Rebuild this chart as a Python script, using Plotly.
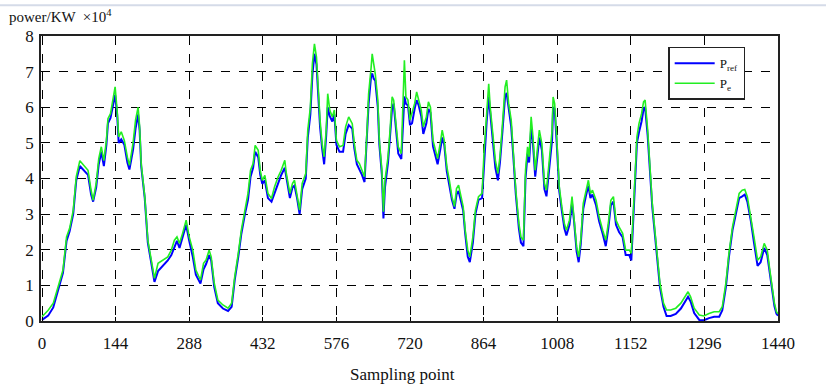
import plotly.graph_objects as go

sample_x = [0, 12, 22, 31, 41, 48, 54, 61, 67, 74, 83, 90, 96, 100, 106, 111, 116, 121, 126, 129,
            134, 139, 143, 147, 150, 155, 161, 167, 171, 178, 183, 188, 191, 194, 201, 207, 214, 220, 227, 236,
            246, 253, 259, 264, 269, 275, 282, 288, 295, 301, 310, 316, 321, 327, 331, 337, 344, 354, 364, 371,
            377, 384, 390, 397, 403, 408, 413, 417, 423, 427, 431, 436, 442, 449, 455, 462, 468, 475, 478, 485,
            490, 494, 499, 504, 509, 516, 520, 525, 529, 533, 537, 541, 544, 548, 552, 556, 559, 563, 568, 572,
            576, 582, 589, 594, 600, 607, 611, 616, 621, 626, 631, 636, 639, 644, 646, 649, 652, 657, 660, 665,
            668, 671, 677, 681, 685, 688, 693, 697, 703, 707, 709, 712, 716, 720, 724, 729, 733, 737, 742, 746,
            752, 756, 760, 765, 770, 774, 779, 783, 787, 792, 797, 802, 807, 811, 815, 820, 824, 828, 833, 837,
            843, 848, 854, 861, 865, 870, 874, 877, 882, 887, 892, 896, 901, 906, 909, 913, 918, 922, 927, 933,
            937, 942, 946, 950, 953, 957, 960, 965, 970, 973, 978, 983, 987, 992, 998, 1000, 1003, 1007, 1012, 1017,
            1022, 1026, 1032, 1037, 1041, 1046, 1050, 1054, 1059, 1064, 1069, 1073, 1077, 1084, 1090, 1097, 1103, 1108, 1113, 1118,
            1123, 1129, 1136, 1142, 1149, 1153, 1159, 1164, 1168, 1173, 1177, 1180, 1185, 1190, 1194, 1199, 1204, 1209, 1216, 1222,
            1230, 1240, 1250, 1256, 1264, 1269, 1276, 1286, 1295, 1305, 1315, 1325, 1331, 1338, 1344, 1351, 1357, 1364, 1370, 1375,
            1380, 1387, 1393, 1400, 1406, 1413, 1419, 1424, 1429, 1433, 1437, 1440]

p_e = [0.12, 0.30, 0.50, 0.96, 1.43, 2.36, 2.60, 3.10, 4.05, 4.50, 4.33, 4.23, 3.67, 3.39, 3.86, 4.56, 4.89, 4.50, 5.07, 5.68,
       5.82, 6.29, 6.57, 5.90, 5.17, 5.31, 5.07, 4.60, 4.37, 4.98, 5.64, 6.00, 5.45, 4.42, 3.49, 2.27, 1.62, 1.20, 1.62, 1.71,
       1.80, 1.99, 2.27, 2.36, 2.18, 2.46, 2.83, 2.36, 1.99, 1.43, 1.15, 1.62, 1.71, 1.99, 1.80, 1.06, 0.59, 0.45, 0.36, 0.50,
       1.24, 1.90, 2.55, 3.11, 3.58, 4.23, 4.42, 4.93, 4.79, 4.23, 3.95, 4.09, 3.58, 3.44, 3.77, 4.05, 4.23, 4.51, 4.14, 3.58,
       3.86, 3.95, 3.58, 3.11, 3.86, 4.14, 5.36, 6.00, 7.22, 7.78, 7.41, 6.38, 5.64, 4.98, 4.61, 5.36, 6.38, 5.92, 5.73, 5.92,
       5.07, 4.89, 4.93, 5.45, 5.73, 5.54, 4.98, 4.51, 4.42, 4.23, 4.05, 5.36, 6.38, 7.13, 7.50, 7.22, 6.94, 6.20, 5.07, 4.23,
       3.07, 3.95, 4.61, 5.36, 6.29, 6.20, 5.36, 4.89, 4.70, 6.29, 7.32, 6.29, 6.20, 5.64, 5.82, 6.10, 6.43, 6.20, 5.92, 5.45,
       5.73, 6.15, 6.00, 5.07, 4.79, 4.56, 4.98, 5.36, 5.07, 4.33, 3.95, 3.49, 3.21, 3.72, 3.81, 3.49, 3.21, 2.55, 1.99, 1.80,
       2.36, 3.11, 3.49, 3.58, 4.79, 5.82, 6.66, 6.00, 5.26, 4.51, 4.14, 4.61, 5.54, 6.57, 6.76, 6.10, 5.64, 4.79, 3.67, 2.74,
       2.36, 2.27, 4.23, 4.89, 4.61, 5.73, 5.26, 4.23, 4.89, 5.36, 4.98, 3.86, 3.67, 4.42, 5.36, 6.29, 6.10, 5.17, 3.77, 3.21,
       2.74, 2.55, 2.83, 3.49, 2.93, 2.08, 1.80, 2.27, 3.30, 3.67, 3.95, 3.58, 3.67, 3.39, 2.93, 2.55, 2.27, 2.74, 3.39, 3.49,
       2.83, 2.64, 2.46, 1.99, 1.99, 1.90, 3.86, 5.17, 5.54, 5.82, 6.15, 6.20, 5.36, 4.05, 3.30, 2.55, 1.71, 1.06, 0.50, 0.31,
       0.31, 0.36, 0.50, 0.64, 0.82, 0.68, 0.36, 0.17, 0.14, 0.21, 0.26, 0.26, 0.40, 1.06, 1.90, 2.64, 3.11, 3.58, 3.67, 3.69,
       3.49, 2.93, 2.36, 1.71, 1.80, 2.18, 1.99, 1.43, 0.87, 0.50, 0.26, 0.20]

p_ref = [0.03, 0.15, 0.38, 0.85, 1.35, 2.25, 2.52, 3.00, 3.95, 4.35, 4.20, 4.10, 3.55, 3.35, 3.75, 4.40, 4.75, 4.35, 4.95, 5.55,
         5.70, 6.10, 6.35, 5.80, 5.00, 5.10, 4.95, 4.45, 4.25, 4.80, 5.40, 5.80, 5.35, 4.35, 3.45, 2.20, 1.55, 1.10, 1.40, 1.55,
         1.70, 1.85, 2.10, 2.25, 2.05, 2.35, 2.70, 2.25, 1.80, 1.30, 1.05, 1.45, 1.60, 1.85, 1.70, 0.95, 0.50, 0.35, 0.28, 0.40,
         1.15, 1.80, 2.45, 3.00, 3.40, 4.05, 4.30, 4.75, 4.60, 4.10, 3.85, 3.95, 3.45, 3.35, 3.60, 3.90, 4.10, 4.30, 4.05, 3.45,
         3.75, 3.80, 3.45, 3.00, 3.70, 4.00, 5.15, 5.80, 6.90, 7.50, 7.20, 6.10, 5.45, 4.85, 4.40, 5.20, 6.00, 5.75, 5.60, 5.80,
         4.95, 4.75, 4.75, 5.25, 5.50, 5.40, 4.85, 4.40, 4.25, 4.10, 3.90, 5.10, 6.10, 6.90, 6.95, 6.80, 6.75, 6.00, 4.95, 4.10,
         2.88, 3.75, 4.45, 5.20, 6.00, 6.10, 5.20, 4.70, 4.55, 6.00, 6.30, 6.10, 6.05, 5.50, 5.55, 5.95, 6.20, 6.05, 5.75, 5.25,
         5.55, 5.95, 5.85, 4.90, 4.65, 4.40, 4.80, 5.15, 4.95, 4.20, 3.80, 3.40, 3.15, 3.55, 3.65, 3.35, 3.10, 2.45, 1.80, 1.65,
         2.20, 3.00, 3.40, 3.45, 4.55, 5.60, 6.30, 5.80, 5.10, 4.30, 3.95, 4.45, 5.35, 6.30, 6.40, 5.90, 5.45, 4.65, 3.55, 2.60,
         2.20, 2.10, 4.00, 4.70, 4.45, 5.40, 5.10, 4.05, 4.70, 5.15, 4.80, 3.70, 3.50, 4.25, 5.10, 6.00, 5.95, 5.00, 3.65, 3.10,
         2.60, 2.40, 2.70, 3.30, 2.80, 1.95, 1.65, 2.15, 3.15, 3.50, 3.80, 3.45, 3.55, 3.25, 2.80, 2.45, 2.10, 2.60, 3.25, 3.35,
         2.70, 2.50, 2.35, 1.85, 1.85, 1.70, 3.70, 5.00, 5.30, 5.60, 5.95, 6.00, 5.20, 3.95, 3.20, 2.45, 1.60, 0.95, 0.40, 0.14,
         0.14, 0.20, 0.35, 0.50, 0.68, 0.55, 0.22, 0.03, 0.02, 0.08, 0.12, 0.12, 0.30, 0.95, 1.80, 2.55, 3.00, 3.45, 3.50, 3.55,
         3.35, 2.80, 2.20, 1.55, 1.65, 2.05, 1.85, 1.35, 0.80, 0.42, 0.20, 0.15]

x_ticks = [0, 144, 288, 432, 576, 720, 864, 1008, 1152, 1296, 1440]
y_ticks = [0, 1, 2, 3, 4, 5, 6, 7, 8]

serif = "Liberation Serif, Times New Roman, serif"

fig = go.Figure()
fig.add_trace(go.Scatter(x=sample_x, y=p_ref, mode="lines", name="P<sub>ref</sub>",
                         line=dict(color="#0000ff", width=2.0)))
fig.add_trace(go.Scatter(x=sample_x, y=p_e, mode="lines", name="P<sub>e</sub>",
                         line=dict(color="#22ee22", width=1.6)))

axis_common = dict(showgrid=True, gridcolor="black", griddash="dash", gridwidth=1.3,
                   showline=True, linecolor="#222", linewidth=1.5, mirror=True,
                   ticks="inside", ticklen=4, tickcolor="black", zeroline=False,
                   tickfont=dict(family=serif, size=17, color="#111"))

fig.update_layout(
    width=826, height=389,
    margin=dict(l=41, r=48, t=36, b=68),
    paper_bgcolor="white", plot_bgcolor="white",
    xaxis=dict(range=[-2, 1440], tickvals=x_ticks, ticktext=[str(v) for v in x_ticks],
               ticklabelstandoff=6, **axis_common),
    yaxis=dict(range=[0, 8], tickvals=y_ticks, ticklabelstandoff=2, **axis_common),
    showlegend=True,
    legend=dict(x=0.851, y=0.962, xanchor="left", yanchor="top",
                bordercolor="#222", borderwidth=1.5, bgcolor="white",
                font=dict(family=serif, size=13, color="#111"),
                tracegroupgap=0, itemwidth=40),
    annotations=[
        dict(text="power/KW  ×10<sup>4</sup>", xref="paper", yref="paper", x=-0.046, y=1.0,
             xanchor="left", yanchor="bottom", showarrow=False, yshift=9,
             font=dict(family=serif, size=15, color="#111")),
        dict(text="Sampling point", xref="paper", yref="paper", x=0.49, y=0,
             xanchor="center", yanchor="top", showarrow=False, yshift=-42,
             font=dict(family=serif, size=17, color="#111")),
    ],
    shapes=[dict(type="line", xref="paper", yref="paper", x0=-0.06, x1=1.07, y0=1.108, y1=1.108,
                 line=dict(color="#d5dbe8", width=2))],
)

fig.write_html("out.html")
